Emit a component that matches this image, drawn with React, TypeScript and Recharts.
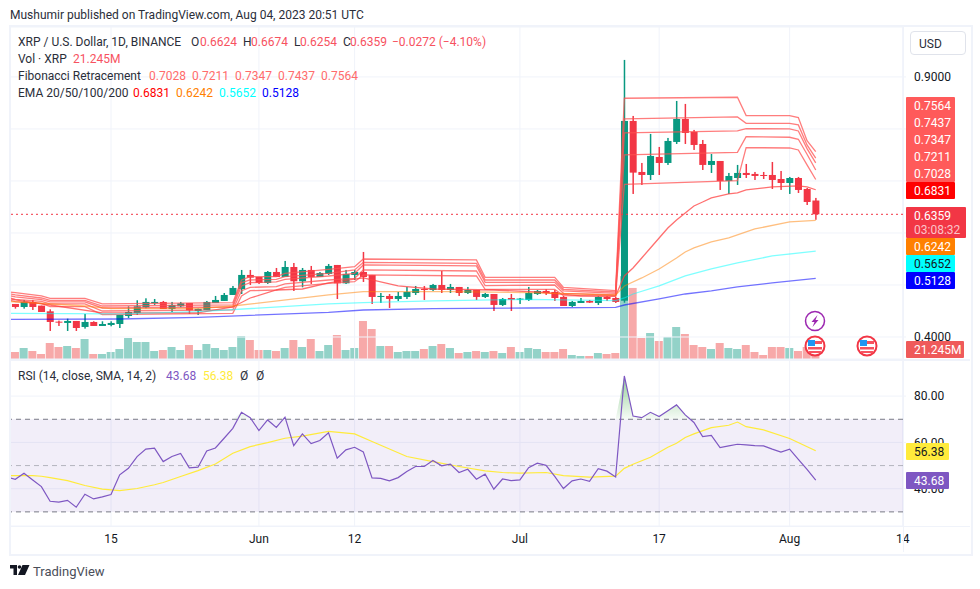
import React from "react";
import {
  Area,
  Bar,
  CartesianGrid,
  Cell,
  ComposedChart,
  Line,
  ReferenceArea,
  ReferenceLine,
  XAxis,
  YAxis,
} from "recharts";

// daily candles, day 0 is May 4 2023, day 92 is Aug 4 2023
const opens = [
  0.4635, 0.4577, 0.4674, 0.4603, 0.4494, 0.4295, 0.427, 0.4308, 0.4193, 0.4289, 0.4212, 0.4231, 0.425, 0.4404, 0.4462,
  0.4571, 0.4648, 0.4674, 0.4539, 0.459, 0.4654, 0.45, 0.452, 0.4654, 0.4693, 0.4808, 0.4923, 0.5193, 0.5154, 0.5039,
  0.525, 0.5154, 0.5346, 0.5071, 0.5289, 0.5154, 0.5212, 0.5385, 0.5032, 0.5193, 0.525, 0.5193, 0.477, 0.4789, 0.4731,
  0.477, 0.4846, 0.4923, 0.4904, 0.5, 0.4904, 0.4962, 0.4846, 0.4904, 0.477, 0.4827, 0.4616, 0.475, 0.4725, 0.4712,
  0.4827, 0.4885, 0.4866, 0.477, 0.4596, 0.4654, 0.4693, 0.4654, 0.477, 0.475, 0.4698, 0.8154, 0.7173, 0.7115, 0.7461,
  0.7346, 0.775, 0.8192, 0.7942, 0.7711, 0.7308, 0.7384, 0.7, 0.7057, 0.7154, 0.7135, 0.7115, 0.7115, 0.7038, 0.6961,
  0.7057, 0.6846, 0.6624,
];
const highs = [
  0.4635, 0.4712, 0.4712, 0.4603, 0.4532, 0.4315, 0.4353, 0.4308, 0.4443, 0.4302, 0.4302, 0.4302, 0.4423, 0.459, 0.4706,
  0.4744, 0.4731, 0.4693, 0.4674, 0.4674, 0.4654, 0.4545, 0.4693, 0.4789, 0.4846, 0.4981, 0.5289, 0.5289, 0.5154,
  0.5269, 0.5327, 0.5462, 0.5423, 0.5327, 0.5366, 0.525, 0.5404, 0.5385, 0.5289, 0.5289, 0.5635, 0.5193, 0.4846, 0.4827,
  0.4866, 0.4962, 0.4981, 0.4981, 0.502, 0.5269, 0.502, 0.4962, 0.4962, 0.4904, 0.4846, 0.4827, 0.475, 0.4827, 0.475,
  0.4962, 0.4904, 0.4923, 0.4904, 0.4789, 0.4693, 0.475, 0.4712, 0.4789, 0.4789, 0.477, 0.9327, 0.825, 0.7346, 0.7904,
  0.7654, 0.7827, 0.8538, 0.8481, 0.7981, 0.7788, 0.7519, 0.7384, 0.7154, 0.7308, 0.7327, 0.7173, 0.7173, 0.7365, 0.7192,
  0.7077, 0.7077, 0.6865, 0.6674,
];
const lows = [
  0.4545, 0.4545, 0.452, 0.4481, 0.4116, 0.4212, 0.4116, 0.4116, 0.4161, 0.4212, 0.4212, 0.4206, 0.4173, 0.4366, 0.4423,
  0.4552, 0.4616, 0.4539, 0.4481, 0.4571, 0.4443, 0.4423, 0.452, 0.4654, 0.4693, 0.4808, 0.4827, 0.5, 0.502, 0.502,
  0.5154, 0.5154, 0.4885, 0.4955, 0.502, 0.5154, 0.5193, 0.4731, 0.502, 0.5096, 0.5058, 0.4635, 0.4654, 0.4558, 0.4693,
  0.4731, 0.4808, 0.4712, 0.4885, 0.4846, 0.4846, 0.4789, 0.4827, 0.4712, 0.475, 0.45, 0.4596, 0.45, 0.4635, 0.4693,
  0.4808, 0.4808, 0.4693, 0.4596, 0.4577, 0.4654, 0.4654, 0.4616, 0.4693, 0.4654, 0.466, 0.675, 0.6923, 0.7019, 0.7115,
  0.7308, 0.7711, 0.7711, 0.7596, 0.7211, 0.7154, 0.6827, 0.675, 0.6923, 0.7057, 0.7019, 0.7038, 0.6846, 0.6827, 0.675,
  0.6769, 0.6538, 0.6254,
];
const closes = [
  0.4577, 0.4674, 0.4577, 0.4481, 0.4289, 0.4276, 0.4308, 0.4173, 0.4289, 0.4212, 0.425, 0.427, 0.4423, 0.4481, 0.459,
  0.4674, 0.4674, 0.4539, 0.4616, 0.4648, 0.4513, 0.4539, 0.4674, 0.4712, 0.4808, 0.4943, 0.5193, 0.5141, 0.5039, 0.525,
  0.5154, 0.5346, 0.5071, 0.5289, 0.5154, 0.5231, 0.5366, 0.5032, 0.5212, 0.525, 0.5154, 0.477, 0.4789, 0.4731, 0.4789,
  0.4866, 0.4923, 0.4911, 0.5, 0.4904, 0.4962, 0.4846, 0.4904, 0.477, 0.4827, 0.4616, 0.4731, 0.4718, 0.4738, 0.4846,
  0.4885, 0.4846, 0.475, 0.4596, 0.4674, 0.4693, 0.4661, 0.477, 0.4731, 0.4674, 0.8154, 0.716, 0.7115, 0.7481, 0.7346,
  0.7769, 0.8192, 0.7923, 0.7692, 0.7308, 0.7384, 0.7, 0.7096, 0.7154, 0.7115, 0.7096, 0.7096, 0.7019, 0.6961, 0.7057,
  0.6827, 0.6596, 0.6359,
];
const volumes = [
  14.9, 23.4, 17.0, 10.6, 34.0, 25.5, 27.6, 23.4, 42.5, 10.6, 10.6, 14.9, 21.2, 44.6, 36.1, 36.1, 17.0, 19.1, 25.5, 19.1,
  29.7, 19.1, 31.9, 23.4, 19.1, 25.5, 48.9, 40.4, 19.1, 19.1, 17.0, 23.4, 40.4, 25.5, 42.5, 17.0, 29.7, 51.0, 19.1, 23.4,
  80.7, 63.7, 27.6, 27.6, 14.9, 17.0, 17.0, 21.2, 27.6, 31.9, 23.4, 12.7, 14.9, 17.0, 14.9, 17.0, 12.7, 25.5, 14.9, 23.4,
  21.2, 14.9, 14.9, 21.2, 8.5, 6.4, 6.4, 12.7, 10.6, 12.7, 176, 151, 44.6, 55.2, 38.2, 46.7, 68.0, 53.1, 29.7, 25.5, 21.2,
  34.0, 23.4, 21.2, 29.7, 14.9, 8.5, 25.5, 25.5, 23.4, 17.0, 25.5, 21.245,
];

// the indicators start before the pane's left edge, day -1 is clipped by the axis
const EDGE_DAY = -1;

// fibonacci and EMA lines only bend at these days, the straight runs are left to connectNulls
const fibDays = [EDGE_DAY, 0, 3, 4, 8, 10, 25, 26, 27, 30, 31, 36, 39, 40, 53, 54, 62, 63, 69, 70, 83, 84, 89, 90, 91, 92];
const fib1 = [
  0.4725, 0.468, 0.4648, 0.4584, 0.4584, 0.443, 0.4456, 0.4789, 0.4891, 0.4904, 0.4955, 0.5032, 0.5064, 0.5193, 0.5173,
  0.4917, 0.4917, 0.4795, 0.4782, 0.6936, 0.7006, 0.7641, 0.7634, 0.7596, 0.7308, 0.7028,
];
const fib2 = [
  0.477, 0.4725, 0.4686, 0.4635, 0.4635, 0.45, 0.452, 0.4891, 0.4955, 0.4968, 0.502, 0.5096, 0.5129, 0.5289, 0.5269,
  0.4987, 0.5, 0.484, 0.4808, 0.75, 0.7551, 0.7852, 0.784, 0.7801, 0.7513, 0.7211,
];
const fib3 = [
  0.4808, 0.477, 0.4718, 0.4674, 0.4674, 0.4558, 0.4577, 0.4981, 0.5045, 0.5058, 0.5109, 0.5173, 0.5225, 0.5385, 0.5366,
  0.5052, 0.5052, 0.4885, 0.484, 0.7923, 0.7961, 0.8006, 0.8, 0.7961, 0.7622, 0.7347,
];
const fib4 = [
  0.484, 0.4808, 0.475, 0.4706, 0.4706, 0.4596, 0.4616, 0.5045, 0.5096, 0.5109, 0.5161, 0.5225, 0.5289, 0.5436, 0.5417,
  0.5096, 0.5096, 0.4917, 0.4866, 0.8192, 0.8231, 0.8109, 0.8109, 0.8077, 0.7692, 0.7437,
];
const fib5 = [
  0.4872, 0.4853, 0.4789, 0.4744, 0.4744, 0.4635, 0.4661, 0.5096, 0.5161, 0.5161, 0.5225, 0.5302, 0.5353, 0.55, 0.5481,
  0.5148, 0.5148, 0.4955, 0.4891, 0.859, 0.8609, 0.8256, 0.8256, 0.8218, 0.7775, 0.7564,
];

const ema20Days = [
  EDGE_DAY, 0, 4, 10, 21, 25, 27, 30, 33, 36, 40, 44, 48, 55, 60, 65, 69, 70, 71, 72, 73, 74, 75, 76, 77, 78, 79, 80, 81,
  82, 83, 84, 87, 90, 91, 92,
];
const ema20 = [
  0.4744, 0.4712, 0.4615, 0.4462, 0.4462, 0.4577, 0.475, 0.4904, 0.4923, 0.5039, 0.5135, 0.4981, 0.4923, 0.4904, 0.4865,
  0.4789, 0.4789, 0.5173, 0.5327, 0.5519, 0.5712, 0.5904, 0.6096, 0.625, 0.6385, 0.6519, 0.6596, 0.6673, 0.6712, 0.675,
  0.6769, 0.6827, 0.6885, 0.6904, 0.6885, 0.6831,
];
const ema50Days = [EDGE_DAY, 8, 11, 21, 25, 36, 40, 50, 59, 69, 70, 72, 74, 76, 77, 78, 80, 82, 83, 85, 89, 92];
const ema50 = [
  0.4686, 0.4596, 0.4545, 0.4545, 0.4596, 0.4808, 0.4872, 0.4872, 0.4853, 0.4808, 0.4981, 0.5135, 0.5308, 0.5519, 0.5635,
  0.5712, 0.5827, 0.5904, 0.5962, 0.6077, 0.6212, 0.6242,
];
const ema100Days = [EDGE_DAY, 12, 21, 36, 40, 48, 59, 69, 70, 71, 74, 77, 80, 83, 87, 92];
const ema100 = [
  0.4456, 0.4443, 0.4487, 0.4635, 0.466, 0.4693, 0.4725, 0.4698, 0.475, 0.4827, 0.4981, 0.5173, 0.5308, 0.5423, 0.5558,
  0.5652,
];
const ema200Days = [EDGE_DAY, 12, 21, 36, 40, 48, 59, 69, 70, 74, 77, 80, 83, 87, 92];
const ema200 = [
  0.434, 0.4346, 0.4379, 0.4475, 0.4519, 0.4545, 0.4558, 0.4571, 0.4615, 0.4731, 0.4827, 0.4885, 0.4962, 0.5039, 0.5128,
];

const rsiEdge = 45.0;
const rsi = [
  44.1, 46.7, 43.8, 40.9, 34.6, 34.2, 35.0, 32.0, 37.6, 35.6, 36.5, 37.5, 46.0, 48.8, 53.9, 57.1, 57.5, 51.7, 53.9, 55.2,
  49.0, 49.3, 56.3, 57.6, 61.8, 66.1, 73.0, 70.7, 65.1, 69.7, 66.5, 70.9, 58.6, 63.7, 59.5, 60.8, 64.2, 53.2, 56.8, 57.9,
  55.9, 44.7, 44.5, 43.4, 44.8, 47.4, 49.6, 49.6, 52.2, 49.9, 50.6, 47.0, 48.4, 44.1, 46.3, 39.8, 44.2, 43.5, 43.8, 49.1,
  51.0, 50.1, 45.3, 40.1, 43.4, 44.2, 43.2, 48.7, 47.6, 45.1, 88.7, 71.4, 70.7, 73.0, 71.2, 73.7, 76.2, 71.9, 68.6, 62.5,
  63.0, 57.8, 58.5, 59.2, 58.9, 58.6, 58.5, 57.1, 55.8, 57.1, 52.7, 48.4, 43.68,
];
const rsiMaDays = [
  EDGE_DAY, 2, 3, 4, 6, 8, 10, 12, 14, 16, 17, 19, 21, 23, 25, 27, 29, 31, 33, 36, 39, 41, 45, 48, 51, 54, 56, 58, 61, 63,
  66, 69, 70, 71, 73, 75, 76, 77, 78, 80, 82, 83, 84, 86, 89, 92,
];
const rsiMa = [
  45.7, 45.7, 45.4, 44.8, 43.5, 41.4, 39.8, 39.2, 40.1, 41.7, 42.7, 45.3, 47.8, 50.7, 55.3, 58.2, 59.9, 61.8, 62.7, 64.8,
  63.7, 60.4, 53.9, 51.7, 49.6, 47.7, 47.0, 46.7, 47.0, 45.7, 45.0, 45.4, 48.8, 50.6, 53.6, 57.9, 59.6, 62.1, 63.7, 66.4,
  67.4, 68.8, 66.8, 65.4, 61.7, 56.38,
];

const priceTicks = [0.4, 0.5, 0.6, 0.7, 0.8, 0.9];
const coveredPriceTicks = [0.6, 0.7, 0.8]; // fully under the price tags on the reference
const rsiTicks = [40, 60, 80];
const timeTicks = [11, 28, 39, 58, 74, 89, 102];
const timeLabels = ["15", "Jun", "12", "Jul", "17", "Aug", "14"];
const fibLabels = ["0.7564", "0.7437", "0.7347", "0.7211", "0.7028"];

const UP = "#089981";
const DOWN = "#f23645";
const FONT = "Roboto, sans-serif";
const DAY_DOMAIN: [number, number] = [-0.609, 102.03];

function lookup(days: number[], values: number[], day: number) {
  const at = days.indexOf(day);
  return at === -1 ? null : values[at];
}

function indicators(day: number) {
  return {
    day,
    fib1: lookup(fibDays, fib1, day),
    fib2: lookup(fibDays, fib2, day),
    fib3: lookup(fibDays, fib3, day),
    fib4: lookup(fibDays, fib4, day),
    fib5: lookup(fibDays, fib5, day),
    ema20: lookup(ema20Days, ema20, day),
    ema50: lookup(ema50Days, ema50, day),
    ema100: lookup(ema100Days, ema100, day),
    ema200: lookup(ema200Days, ema200, day),
    rsiMa: lookup(rsiMaDays, rsiMa, day),
  };
}

const rows: any[] = [
  { ...indicators(EDGE_DAY), rsi: rsiEdge, rsiOver: [70, 70] },
  ...opens.map((open, day) => ({
    ...indicators(day),
    open,
    close: closes[day],
    high: highs[day],
    low: lows[day],
    range: [lows[day], highs[day]],
    volume: volumes[day],
    rsi: rsi[day],
    rsiOver: [70, Math.max(70, rsi[day])],
  })),
];

function Candle(props: any) {
  const { x, y, width, height, payload } = props;
  if (payload.open == null) return null;
  const { open, close, high, low } = payload;
  const color = close >= open ? UP : DOWN;
  const perUnit = height / (high - low || 1);
  const top = y + (high - Math.max(open, close)) * perUnit;
  const bodyH = Math.max(1, Math.abs(open - close) * perUnit);
  return (
    <g>
      <rect x={x + width / 2 - 0.75} y={y} width={1.5} height={Math.max(height, 1)} fill={color} />
      <rect x={x} y={top} width={width} height={bodyH} fill={color} />
    </g>
  );
}

function Txt({ x, y, color = "#2a2e39", size = 12, children, anchor }: any) {
  return (
    <div
      style={{
        position: "absolute",
        left: x,
        top: y - 7,
        height: 16,
        lineHeight: "16px",
        fontSize: size,
        color,
        whiteSpace: "pre",
        fontFamily: FONT,
        transform: anchor === "middle" ? "translateX(-50%)" : undefined,
      }}
    >
      {children}
    </div>
  );
}

function Tag({ x, y, w, h, bg, children }: any) {
  return (
    <div style={{ position: "absolute", left: x, top: y, width: w, height: h, background: bg, borderRadius: 1 }}>
      {children}
    </div>
  );
}

function Flag({ x, y }: { x: number; y: number }) {
  return (
    <svg style={{ position: "absolute", left: x - 11, top: y - 11 }} width={22} height={22}>
      <circle cx={11} cy={11} r={9.5} fill="#fff" stroke={DOWN} strokeWidth={2} />
      <rect x={4} y={6} width={14} height={3} fill="#f7525f" />
      <rect x={4} y={12} width={14} height={2.5} fill="#f7525f" />
      <rect x={5} y={16} width={12} height={2} fill="#f7525f" />
      <rect x={4} y={5} width={7} height={6} fill="#2196f3" />
    </svg>
  );
}

function Frame() {
  const c = "#f0f3fa";
  return (
    <>
      <div style={{ position: "absolute", left: 9, top: 25, width: 960, height: 527, border: `2px solid ${c}` }} />
      <div style={{ position: "absolute", left: 903, top: 27, width: 1, height: 525, background: c }} />
      <div style={{ position: "absolute", left: 10, top: 359, width: 960, height: 2, background: c }} />
      <div style={{ position: "absolute", left: 10, top: 526, width: 960, height: 1, background: c }} />
    </>
  );
}

function Legend() {
  const red = "#f7525f";
  const fibRed = "#ff6b6b";
  return (
    <>
      <Txt x={10} y={14}>Mushumir published on TradingView.com, Aug 04, 2023 20:51 UTC</Txt>
      <Txt x={18} y={41}>XRP / U.S. Dollar, 1D, BINANCE</Txt>
      <Txt x={191} y={41}>O</Txt>
      <Txt x={200} y={41} color={red}>0.6624</Txt>
      <Txt x={243} y={41}>H</Txt>
      <Txt x={251} y={41} color={red}>0.6674</Txt>
      <Txt x={294} y={41}>L</Txt>
      <Txt x={300} y={41} color={red}>0.6254</Txt>
      <Txt x={343} y={41}>C</Txt>
      <Txt x={350} y={41} color={red}>0.6359</Txt>
      <Txt x={392} y={41} color={red}>−0.0272 (−4.10%)</Txt>
      <Txt x={18} y={58}>Vol · XRP</Txt>
      <Txt x={73} y={58} color={red}>21.245M</Txt>
      <Txt x={18} y={75}>Fibonacci Retracement</Txt>
      <Txt x={149} y={75} color={fibRed}>0.7028</Txt>
      <Txt x={192} y={75} color={fibRed}>0.7211</Txt>
      <Txt x={235} y={75} color={fibRed}>0.7347</Txt>
      <Txt x={278} y={75} color={fibRed}>0.7437</Txt>
      <Txt x={321} y={75} color={fibRed}>0.7564</Txt>
      <Txt x={18} y={92}>EMA 20/50/100/200</Txt>
      <Txt x={133} y={92} color="#ff0000">0.6831</Txt>
      <Txt x={176} y={92} color="#ff8000">0.6242</Txt>
      <Txt x={219} y={92} color="#00ffff">0.5652</Txt>
      <Txt x={262} y={92} color="#0000ff">0.5128</Txt>
      <Txt x={18} y={374.5}>RSI (14, close, SMA, 14, 2)</Txt>
      <Txt x={166} y={374.5} color="#7e57c2">43.68</Txt>
      <Txt x={203} y={374.5} color="#ffeb3b">56.38</Txt>
      <Txt x={240} y={374.5}>Ø</Txt>
      <Txt x={256} y={374.5}>Ø</Txt>
    </>
  );
}

function PriceTags() {
  return (
    <>
      <div
        style={{
          position: "absolute",
          left: 910,
          top: 31,
          width: 54,
          height: 22,
          border: "1px solid #e0e3eb",
          borderRadius: 4,
          background: "#fff",
        }}
      />
      <Txt x={919} y={43}>USD</Txt>
      <Tag x={906} y={97} w={49} h={85} bg="#ff5a5a" />
      {fibLabels.map((label, k) => (
        <Txt key={label} x={914} y={105 + k * 17} color="#fff">{label}</Txt>
      ))}
      <Tag x={906} y={182} w={49} h={17} bg="#ff0000" />
      <Txt x={914} y={190} color="#fff">0.6831</Txt>
      <Tag x={906} y={207} w={60} h={31} bg={DOWN} />
      <Txt x={914} y={215} color="#fff">0.6359</Txt>
      <Txt x={914} y={229} color="#fbc4c9">03:08:32</Txt>
      <Tag x={906} y={238} w={49} h={17} bg="#ff8000" />
      <Txt x={914} y={246} color="#fff">0.6242</Txt>
      <Tag x={906} y={255} w={49} h={17} bg="#00ffff" />
      <Txt x={914} y={263} color="#131722">0.5652</Txt>
      <Tag x={906} y={272} w={49} h={17} bg="#0000ff" />
      <Txt x={914} y={280} color="#fff">0.5128</Txt>
      <Tag x={906} y={341} w={58} h={17} bg="#ef5a5a" />
      <Txt x={914} y={349} color="#fff">21.245M</Txt>
      <Tag x={906} y={443} w={43} h={17} bg="#ffeb3b" />
      <Txt x={914} y={451} color="#131722">56.38</Txt>
      <Tag x={906} y={472} w={43} h={17} bg="#7e57c2" />
      <Txt x={914} y={480} color="#fff">43.68</Txt>
    </>
  );
}

function Icons() {
  return (
    <>
      <svg style={{ position: "absolute", left: 804, top: 310 }} width={22} height={22}>
        <circle cx={11} cy={11} r={9.5} fill="#fff" stroke="#9c27b0" strokeWidth={1.5} />
        <path d="M13.5 5 L7.5 12 L10.5 12 L8.5 17 L14.5 10 L11.5 10 Z" fill="#9c27b0" />
      </svg>
      <Flag x={815} y={345.5} />
      <Flag x={867} y={345.5} />
      <svg style={{ position: "absolute", left: 10, top: 565 }} width={20} height={12}>
        <path d="M0 0 H7 V10 H3.5 V3.5 H0 Z M8 10 L12.5 0 H19.5 L15 10 Z" fill="#131722" />
        <circle cx={9.5} cy={2} r={1.8} fill="#131722" />
      </svg>
      <Txt x={33} y={571} size={13} color="#4a4e59">TradingView</Txt>
    </>
  );
}

// bars in one chart share a slot even on separate axes, so volume sits in its own chart underneath
function VolumeChart() {
  return (
    <ComposedChart width={960} height={332} data={rows} margin={{ top: 0, right: 67, bottom: 0, left: 0 }}>
      <XAxis dataKey="day" type="number" domain={DAY_DOMAIN} ticks={timeTicks} allowDataOverflow hide />
      <YAxis domain={[0, 705.5]} hide />
      <Bar dataKey="volume" barSize={8} isAnimationActive={false}>
        {rows.map((r) => (
          <Cell key={r.day} fill={r.close >= r.open ? "#93d2c8" : "#f7a9a9"} />
        ))}
      </Bar>
    </ComposedChart>
  );
}

function PriceChart() {
  const tick = { fill: "#131722", fontSize: 12, fontFamily: FONT };
  const fibStroke = { stroke: "#ff5252", strokeOpacity: 0.75, strokeWidth: 1.3 };
  return (
    <ComposedChart width={960} height={332} data={rows} margin={{ top: 0, right: 0, bottom: 0, left: 0 }}>
      <CartesianGrid stroke="#f0f3fa" />
      <XAxis dataKey="day" type="number" domain={DAY_DOMAIN} ticks={timeTicks} allowDataOverflow hide />
      <YAxis
        orientation="right"
        width={67}
        domain={[0.3577, 0.996]}
        ticks={priceTicks}
        tickFormatter={(v: number) => (coveredPriceTicks.includes(v) ? "" : v.toFixed(4))}
        tick={tick}
        tickSize={3}
        tickMargin={8}
        axisLine={false}
        tickLine={{ stroke: "#f0f3fa" }}
      />
      <Line dataKey="fib1" dot={false} connectNulls isAnimationActive={false} {...fibStroke} />
      <Line dataKey="fib2" dot={false} connectNulls isAnimationActive={false} {...fibStroke} />
      <Line dataKey="fib3" dot={false} connectNulls isAnimationActive={false} {...fibStroke} />
      <Line dataKey="fib4" dot={false} connectNulls isAnimationActive={false} {...fibStroke} />
      <Line dataKey="fib5" dot={false} connectNulls isAnimationActive={false} {...fibStroke} />
      <Line dataKey="ema20" dot={false} connectNulls isAnimationActive={false} stroke="#ff4040" strokeOpacity={0.75} strokeWidth={1.3} />
      <Line dataKey="ema50" dot={false} connectNulls isAnimationActive={false} stroke="#ff8000" strokeOpacity={0.5} strokeWidth={1.3} />
      <Line dataKey="ema100" dot={false} connectNulls isAnimationActive={false} stroke="#00ffff" strokeOpacity={0.5} strokeWidth={1.3} />
      <Line dataKey="ema200" dot={false} connectNulls isAnimationActive={false} stroke="#0000ff" strokeOpacity={0.55} strokeWidth={1.3} />
      <Bar dataKey="range" barSize={7} shape={Candle} isAnimationActive={false} />
      <ReferenceLine y={0.6359} stroke={DOWN} strokeDasharray="2 3" />
    </ComposedChart>
  );
}

function RsiChart() {
  const tick = { fill: "#131722", fontSize: 12, fontFamily: FONT };
  return (
    <ComposedChart width={960} height={193} data={rows} margin={{ top: 0, right: 0, bottom: 0, left: 0 }}>
      <defs>
        <linearGradient id="rsiOver" x1="0" y1="0" x2="0" y2="1">
          <stop offset="0%" stopColor="#4caf50" stopOpacity={0.6} />
          <stop offset="100%" stopColor="#4caf50" stopOpacity={0.05} />
        </linearGradient>
      </defs>
      <CartesianGrid stroke="#f0f3fa" />
      <XAxis
        dataKey="day"
        type="number"
        domain={DAY_DOMAIN}
        ticks={timeTicks}
        allowDataOverflow
        tickFormatter={(d: number) => timeLabels[timeTicks.indexOf(d)]}
        height={27}
        tick={tick}
        tickSize={0}
        tickMargin={8}
        axisLine={false}
        tickLine={false}
      />
      <YAxis
        orientation="right"
        width={67}
        domain={[23.9, 95.6]}
        ticks={rsiTicks}
        tickFormatter={(v: number) => v.toFixed(2)}
        tick={tick}
        tickSize={3}
        tickMargin={8}
        axisLine={false}
        tickLine={{ stroke: "#f0f3fa" }}
      />
      <ReferenceArea y1={30} y2={70} fill="#7e57c2" fillOpacity={0.1} stroke="none" />
      <ReferenceLine y={70} stroke="#787b86" strokeDasharray="5 4" />
      <ReferenceLine y={50} stroke="#787b86" strokeOpacity={0.5} strokeDasharray="5 4" />
      <ReferenceLine y={30} stroke="#787b86" strokeDasharray="5 4" />
      <Area dataKey="rsiOver" fill="url(#rsiOver)" fillOpacity={1} stroke="none" dot={false} isAnimationActive={false} />
      <Line dataKey="rsiMa" dot={false} connectNulls stroke="#ffeb3b" strokeWidth={1.2} isAnimationActive={false} />
      <Line dataKey="rsi" dot={false} stroke="#7e57c2" strokeWidth={1.2} isAnimationActive={false} />
    </ComposedChart>
  );
}

export default function App() {
  return (
    <div style={{ position: "absolute", left: 0, top: 0, width: 980, height: 589, background: "#fff", overflow: "hidden" }}>
      <div style={{ position: "absolute", left: 10, top: 27 }}>
        <VolumeChart />
      </div>
      <div style={{ position: "absolute", left: 10, top: 27 }}>
        <PriceChart />
      </div>
      <div style={{ position: "absolute", left: 10, top: 360 }}>
        <RsiChart />
      </div>
      <Frame />
      <Legend />
      <PriceTags />
      <Icons />
    </div>
  );
}
